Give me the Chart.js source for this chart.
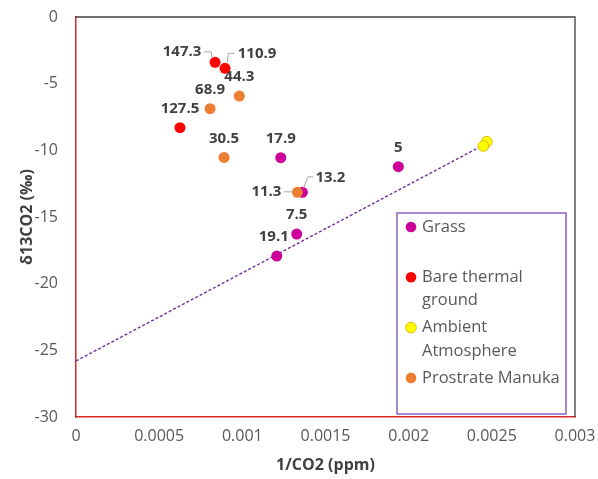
<!DOCTYPE html>
<html>
<head>
<meta charset="utf-8">
<script src="https://cdn.jsdelivr.net/npm/chart.js@4.4.1/dist/chart.umd.min.js"></script>
<style>
  html, body { margin: 0; padding: 0; background: #ffffff; }
  #wrap { width: 598px; height: 479px; }
</style>
</head>
<body>
<div id="wrap"><canvas id="chart" width="598" height="479"></canvas></div>
<script>
// ---- data ----
const seriesNames = ['Grass', ['Bare thermal', 'ground'], ['Ambient', 'Atmosphere'], 'Prostrate Manuka'];

const grassX = [0.001231, 0.001361, 0.001327, 0.001207, 0.001938];
const grassY = [-10.55, -13.15, -16.28, -17.93, -11.23];
const grassLabels = ['17.9', '13.2', '7.5', '19.1', '5'];

const bareX = [0.000836, 0.000896, 0.000625];
const bareY = [-3.40, -3.85, -8.30];
const bareLabels = ['147.3', '110.9', '127.5'];

const ambientX = [0.002470, 0.002449];
const ambientY = [-9.35, -9.68];
const ambientLabels = [null, null];

const manukaX = [0.000982, 0.000806, 0.000890, 0.001331];
const manukaY = [-5.93, -6.88, -10.53, -13.15];
const manukaLabels = ['44.3', '68.9', '30.5', '11.3'];

// linear trend line end points
const trendX = [0, 0.00245];
const trendY = [-25.8, -9.6];

const xTickLabels = ['0', '0.0005', '0.001', '0.0015', '0.002', '0.0025', '0.003'];
const yTickLabels = ['-30', '-25', '-20', '-15', '-10', '-5', '0'];

// ---- styling ----
const FONT = '"Open Sans", "Liberation Sans", sans-serif';
const colors = {
  grass: '#CC0099',
  bare: '#FF0000',
  ambient: '#FFFF00',
  ambientBorder: '#E8B800',
  manuka: '#ED7D31',
  trend: '#7030A0',
  legendBorder: '#8A63C4',
  axisRed: '#D42A2A',
  frame: '#404040',
  tick: '#595959',
  title: '#404040',
  label: '#404040',
  leader: '#A6A6A6'
};

// label offsets (px) relative to the point; default is centred above
const DEFAULT_LABEL = { dx: 0, dy: -19 };
const labelPlacement = {
  '0-3': { dx: -3, dy: -19 },
  '0-1': { dx: 28, dy: -15, leader: [[1, -4], [5.5, -15.5], [11, -15.5]] },
  '1-0': { dx: -33, dy: -10.5, leader: [[-11.5, -10.5], [-4, -10.5], [-3, -5]] },
  '1-1': { dx: 32, dy: -15, leader: [[2.3, -6], [3.3, -15], [9.3, -15]] },
  '3-3': { dx: -31, dy: -0.5, leader: [[-13.5, -0.5], [-4, -0.5]] }
};

function pts(xs, ys) { return xs.map((x, i) => ({ x: x, y: ys[i] })); }

const datasets = [
  { label: 'Grass', data: pts(grassX, grassY), backgroundColor: colors.grass, borderColor: colors.grass,
    pointRadius: 5.5, borderWidth: 0, order: 4, valueLabels: grassLabels },
  { label: 'Bare thermal ground', data: pts(bareX, bareY), backgroundColor: colors.bare, borderColor: colors.bare,
    pointRadius: 5.5, borderWidth: 0, order: 3, valueLabels: bareLabels },
  { label: 'Ambient Atmosphere', data: pts(ambientX, ambientY), backgroundColor: colors.ambient, borderColor: colors.ambientBorder,
    pointRadius: 5.3, borderWidth: 1, order: 2, valueLabels: ambientLabels },
  { label: 'Prostrate Manuka', data: pts(manukaX, manukaY), backgroundColor: colors.manuka, borderColor: colors.manuka,
    pointRadius: 5.5, borderWidth: 0, order: 1, valueLabels: manukaLabels },
  { type: 'line', label: 'trend', data: pts(trendX, trendY), borderColor: colors.trend, borderWidth: 1.4,
    borderDash: [3, 2], pointRadius: 0, fill: false, order: 5, valueLabels: [] }
];

const legendStyle = { left: 397, top: 213, right: 566, bottom: 414, markerX: 411, textX: 422,
  firstY: 227, entryStep: 50.3, lineStep: 23.3, radius: 5.3 };

// top/right frame of the plot area
const framePlugin = {
  id: 'frame',
  afterDraw(chart) {
    const { ctx, chartArea: a } = chart;
    ctx.save();
    ctx.strokeStyle = colors.frame;
    ctx.lineWidth = 1.3;
    ctx.beginPath();
    ctx.moveTo(a.left, a.top);
    ctx.lineTo(a.right, a.top);
    ctx.lineTo(a.right, a.bottom);
    ctx.stroke();
    ctx.restore();
  }
};

// value labels with optional leader lines
const valueLabelPlugin = {
  id: 'valueLabels',
  afterDatasetsDraw(chart) {
    const ctx = chart.ctx;
    ctx.save();
    ctx.font = 'bold 15px ' + FONT;
    ctx.textAlign = 'center';
    ctx.textBaseline = 'middle';
    chart.data.datasets.forEach((ds, di) => {
      const meta = chart.getDatasetMeta(di);
      (ds.valueLabels || []).forEach((txt, pi) => {
        if (!txt) return;
        const el = meta.data[pi];
        const p = labelPlacement[di + '-' + pi] || DEFAULT_LABEL;
        if (p.leader) {
          ctx.strokeStyle = colors.leader;
          ctx.lineWidth = 1;
          ctx.beginPath();
          p.leader.forEach((q, k) => {
            if (k === 0) ctx.moveTo(el.x + q[0], el.y + q[1]);
            else ctx.lineTo(el.x + q[0], el.y + q[1]);
          });
          ctx.stroke();
        }
        ctx.fillStyle = colors.label;
        ctx.fillText(txt, el.x + p.dx, el.y + p.dy);
      });
    });
    ctx.restore();
  }
};

// boxed legend inside the plot area
const legendBoxPlugin = {
  id: 'legendBox',
  afterDraw(chart) {
    const ctx = chart.ctx;
    const L = legendStyle;
    ctx.save();
    ctx.fillStyle = '#ffffff';
    ctx.fillRect(L.left, L.top, L.right - L.left, L.bottom - L.top);
    ctx.strokeStyle = colors.legendBorder;
    ctx.lineWidth = 1.5;
    ctx.strokeRect(L.left, L.top, L.right - L.left, L.bottom - L.top);
    ctx.font = '16.5px ' + FONT;
    ctx.textAlign = 'left';
    ctx.textBaseline = 'middle';
    for (let i = 0; i < 4; i++) {
      const ds = chart.data.datasets[i];
      const y = L.firstY + i * L.entryStep;
      ctx.beginPath();
      ctx.arc(L.markerX, y, L.radius, 0, Math.PI * 2);
      ctx.fillStyle = ds.backgroundColor;
      ctx.fill();
      if (ds.borderWidth) {
        ctx.strokeStyle = ds.borderColor;
        ctx.lineWidth = 1;
        ctx.stroke();
      }
      const lines = Array.isArray(seriesNames[i]) ? seriesNames[i] : [seriesNames[i]];
      ctx.fillStyle = colors.tick;
      lines.forEach((t, k) => ctx.fillText(t, L.textX, y + k * L.lineStep));
    }
    ctx.restore();
  }
};

new Chart(document.getElementById('chart'), {
  type: 'scatter',
  data: { datasets: datasets },
  options: {
    responsive: false,
    animation: false,
    devicePixelRatio: 1,
    layout: { padding: { left: 0, top: 17, right: 23, bottom: 0 } },
    plugins: { legend: { display: false }, tooltip: { enabled: false } },
    scales: {
      x: {
        type: 'linear', min: 0, max: 0.003,
        grid: { display: false, drawTicks: false },
        border: { display: true, color: colors.axisRed, width: 1.5 },
        ticks: {
          stepSize: 0.0005, padding: 10, color: colors.tick,
          font: { family: FONT, size: 16 },
          maxRotation: 0, autoSkip: false,
          callback: (v, i) => xTickLabels[i]
        },
        title: { display: true, text: '1/CO2 (ppm)', color: colors.title,
          font: { family: FONT, size: 16, weight: 'bold' }, padding: { top: 0, bottom: 4 } },
        afterFit(s) { s.height = 62; s.paddingLeft = 0; s.paddingRight = 0; }
      },
      y: {
        type: 'linear', min: -30, max: 0,
        grid: { display: false, drawTicks: false },
        border: { display: true, color: colors.axisRed, width: 1.5 },
        ticks: {
          stepSize: 5, padding: 18, color: colors.tick,
          font: { family: FONT, size: 16 },
          callback: (v, i) => yTickLabels[i]
        },
        title: { display: true, text: 'δ13CO2 (‰)', color: colors.title,
          font: { family: FONT, size: 16, weight: 'bold' }, padding: { top: 18, bottom: 0 } },
        afterFit(s) { s.width = 76; s.paddingTop = 0; s.paddingBottom = 0; }
      }
    }
  },
  plugins: [framePlugin, valueLabelPlugin, legendBoxPlugin]
});
</script>
</body>
</html>
